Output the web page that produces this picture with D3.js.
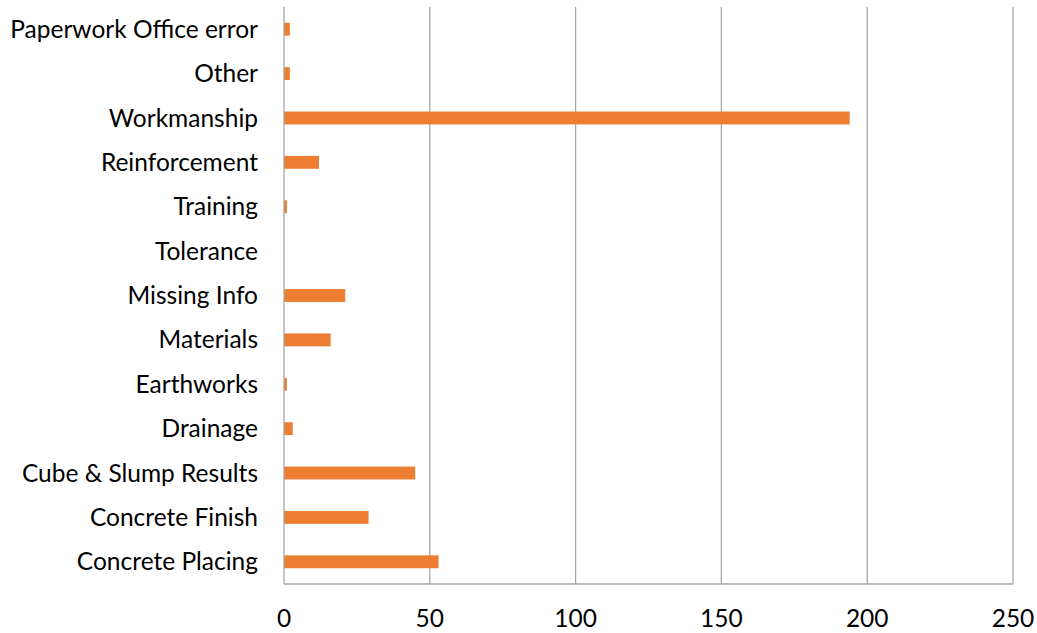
<!DOCTYPE html>
<html>
<head>
<meta charset="utf-8">
<script src="https://cdn.jsdelivr.net/npm/d3@7"></script>
<style>
  html, body { margin: 0; padding: 0; background: #fff; }
  svg { display: block; }
  text { font-family: Lato, "Open Sans", sans-serif; fill: #000; }
</style>
</head>
<body>
<svg id="chart" width="1037" height="633"></svg>
<script>
// Categories listed top to bottom
const categories = [
  "Paperwork Office error", "Other", "Workmanship", "Reinforcement", "Training",
  "Tolerance", "Missing Info", "Materials", "Earthworks", "Drainage",
  "Cube & Slump Results", "Concrete Finish", "Concrete Placing"
];
const counts = [2, 2, 194, 12, 1, 0, 21, 16, 1, 3, 45, 29, 53];
const xTicks = [0, 50, 100, 150, 200, 250];

const svg = d3.select("#chart");
const plotLeft = 284, plotRight = 1013, plotTop = 7, plotBottom = 584;

const x = d3.scaleLinear().domain([0, 250]).range([plotLeft, plotRight]);
const y = d3.scaleBand().domain(categories).range([plotTop, plotBottom]).paddingInner(0.71).paddingOuter(0.355);

// Vertical gridlines
svg.append("g").selectAll("line").data(xTicks.filter(d => d > 0)).join("line")
  .attr("x1", d => x(d)).attr("x2", d => x(d))
  .attr("y1", plotTop).attr("y2", plotBottom)
  .attr("stroke", "#a6a6a6").attr("stroke-width", 1.3);

// Bars
svg.append("g").selectAll("rect").data(categories).join("rect")
  .attr("x", x(0))
  .attr("y", d => y(d))
  .attr("width", (d, i) => x(counts[i]) - x(0))
  .attr("height", y.bandwidth())
  .attr("fill", "#ED7D31");

// Axis lines
svg.append("line").attr("x1", plotLeft).attr("x2", plotLeft).attr("y1", plotTop).attr("y2", plotBottom)
  .attr("stroke", "#a6a6a6").attr("stroke-width", 1.3);
svg.append("line").attr("x1", plotLeft).attr("x2", plotRight).attr("y1", plotBottom).attr("y2", plotBottom)
  .attr("stroke", "#a6a6a6").attr("stroke-width", 1.3);

// Category labels
svg.append("g").selectAll("text").data(categories).join("text")
  .attr("x", 258)
  .attr("y", d => y(d) + y.bandwidth() / 2)
  .attr("dy", "0.35em")
  .attr("text-anchor", "end")
  .attr("font-size", 24.5)
  .text(d => d);

// X tick labels
svg.append("g").selectAll("text").data(xTicks).join("text")
  .attr("x", d => x(d))
  .attr("y", 618)
  .attr("dy", "0.35em")
  .attr("text-anchor", "middle")
  .attr("font-size", 24.5)
  .text(d => d);
</script>
</body>
</html>
